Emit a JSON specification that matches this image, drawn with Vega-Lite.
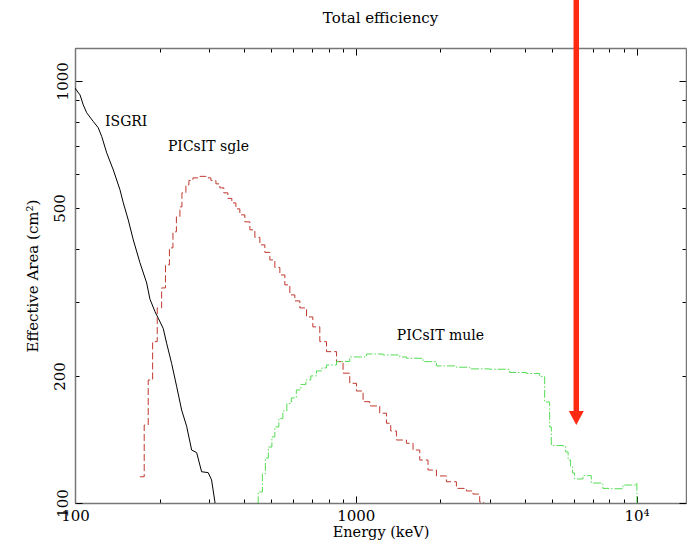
{
  "$schema": "https://vega.github.io/schema/vega-lite/v6.json",
  "width": 611,
  "height": 455,
  "autosize": {"type": "none"},
  "padding": {"left": 75, "top": 48, "right": 1, "bottom": 39},
  "background": "white",
  "config": {"view": {"stroke": null}},
  "title": {"text": "Total efficiency", "font": "DejaVu Serif", "fontSize": 15, "fontWeight": "normal", "color": "black", "anchor": "middle", "offset": 22, "dy": 51},
  "datasets": {
    "isgri": [
      {"E": 100, "A": 961}, {"E": 104.2, "A": 926}, {"E": 107.0, "A": 877}, {"E": 110.1, "A": 840},
      {"E": 116.2, "A": 801}, {"E": 121.0, "A": 774}, {"E": 124.5, "A": 738}, {"E": 129.7, "A": 675},
      {"E": 136.9, "A": 615}, {"E": 144.6, "A": 552}, {"E": 148.6, "A": 514}, {"E": 154.8, "A": 468},
      {"E": 161.3, "A": 420}, {"E": 170.3, "A": 371}, {"E": 180.0, "A": 332}, {"E": 184.9, "A": 304},
      {"E": 192.7, "A": 284}, {"E": 197.9, "A": 274}, {"E": 206.2, "A": 259}, {"E": 212.0, "A": 239},
      {"E": 220.9, "A": 214}, {"E": 230.1, "A": 189}, {"E": 239.8, "A": 166}, {"E": 249.8, "A": 152},
      {"E": 260.3, "A": 133.5}, {"E": 271.2, "A": 131.6}, {"E": 282.4, "A": 118.6}, {"E": 298.1, "A": 118.0},
      {"E": 306.5, "A": 113.4}, {"E": 314.9, "A": 100.7}, {"E": 316.5, "A": 97.5}
    ],
    "sgle": [
      {"E": 170.3, "A": 115.4}, {"E": 176.4, "A": 153.0}, {"E": 182.3, "A": 195.6}, {"E": 189.0, "A": 241.1},
      {"E": 196.3, "A": 289.8}, {"E": 203.5, "A": 323.2}, {"E": 210.0, "A": 366.4}, {"E": 216.9, "A": 402.1},
      {"E": 223.3, "A": 438.7}, {"E": 229.7, "A": 476.2}, {"E": 236.4, "A": 502.8}, {"E": 240.3, "A": 542.8},
      {"E": 248.3, "A": 567.0}, {"E": 254.5, "A": 580.9}, {"E": 263.0, "A": 589.0}, {"E": 278.5, "A": 593.9},
      {"E": 292.5, "A": 589.0}, {"E": 304.8, "A": 580.9}, {"E": 317.6, "A": 570.1}, {"E": 328.1, "A": 557.8},
      {"E": 339.0, "A": 542.8}, {"E": 350.3, "A": 526.7}, {"E": 361.9, "A": 513.9}, {"E": 374.1, "A": 497.4},
      {"E": 386.5, "A": 481.4}, {"E": 402.7, "A": 463.4}, {"E": 419.6, "A": 443.6}, {"E": 437.1, "A": 425.8},
      {"E": 455.4, "A": 408.7}, {"E": 474.5, "A": 392.3}, {"E": 494.3, "A": 376.5}, {"E": 514.9, "A": 361.4},
      {"E": 536.5, "A": 346.9}, {"E": 558.9, "A": 328.6}, {"E": 582.3, "A": 311.1}, {"E": 606.7, "A": 301.1},
      {"E": 632.1, "A": 289.8}, {"E": 667.8, "A": 275.9}, {"E": 703.1, "A": 261.3}, {"E": 744.6, "A": 241.1},
      {"E": 786.5, "A": 228.3}, {"E": 854.0, "A": 216.2}, {"E": 901.0, "A": 203.0}, {"E": 952.0, "A": 192.1},
      {"E": 1005.8, "A": 184.2}, {"E": 1061.7, "A": 173.8}, {"E": 1121.5, "A": 169.8}, {"E": 1217.0, "A": 163.2},
      {"E": 1286.0, "A": 154.5}, {"E": 1332.0, "A": 148.1}, {"E": 1395.7, "A": 141.0}, {"E": 1515.0, "A": 138.5},
      {"E": 1599.5, "A": 133.5}, {"E": 1689.9, "A": 126.4}, {"E": 1808.6, "A": 119.7}, {"E": 1937.5, "A": 115.9},
      {"E": 2102.8, "A": 112.3}, {"E": 2282.3, "A": 108.3}, {"E": 2477.4, "A": 106.8}, {"E": 2615.0, "A": 105.0},
      {"E": 2762.7, "A": 100.5}, {"E": 2855.0, "A": 97.3}
    ],
    "mule": [
      {"E": 444.6, "A": 100.0}, {"E": 449.2, "A": 106.2}, {"E": 464.9, "A": 117.1}, {"E": 476.4, "A": 127.8},
      {"E": 488.2, "A": 135.7}, {"E": 502.5, "A": 143.4}, {"E": 514.9, "A": 151.4}, {"E": 532.1, "A": 158.6},
      {"E": 549.9, "A": 165.2}, {"E": 568.2, "A": 172.1}, {"E": 589.5, "A": 177.4}, {"E": 614.2, "A": 185.3},
      {"E": 637.3, "A": 190.9}, {"E": 663.9, "A": 195.6}, {"E": 691.7, "A": 200.0}, {"E": 724.6, "A": 205.5},
      {"E": 756.8, "A": 208.9}, {"E": 786.5, "A": 212.3}, {"E": 854.0, "A": 216.4}, {"E": 952.0, "A": 221.8},
      {"E": 1091.6, "A": 225.4}, {"E": 1251.0, "A": 224.2}, {"E": 1434.5, "A": 221.8}, {"E": 1515.0, "A": 220.2},
      {"E": 1736.0, "A": 216.2}, {"E": 1937.5, "A": 211.2}, {"E": 2282.3, "A": 209.7}, {"E": 2545.0, "A": 207.8},
      {"E": 2999.0, "A": 207.4}, {"E": 3532.0, "A": 203.8}, {"E": 4051.0, "A": 202.7}, {"E": 4516.0, "A": 199.4},
      {"E": 4706.0, "A": 173.5}, {"E": 4903.0, "A": 151.4}, {"E": 4971.0, "A": 136.8}, {"E": 5468.0, "A": 136.5},
      {"E": 5590.0, "A": 132.1}, {"E": 5705.0, "A": 126.4}, {"E": 5823.0, "A": 121.7}, {"E": 5919.0, "A": 117.8},
      {"E": 6018.0, "A": 114.0}, {"E": 6442.0, "A": 116.1}, {"E": 6900.0, "A": 111.5}, {"E": 7487.0, "A": 110.9},
      {"E": 7587.0, "A": 108.3}, {"E": 8014.0, "A": 108.1}, {"E": 8939.0, "A": 110.3}, {"E": 9975.0, "A": 111.3},
      {"E": 10025.0, "A": 100.0}
    ],
    "labels": [
      {"E": 127.9, "A": 799, "label": "ISGRI"},
      {"E": 214.3, "A": 698, "label": "PICsIT sgle"},
      {"E": 1399.4, "A": 248.7, "label": "PICsIT mule"}
    ],
    "arrow": [{"E": 6100, "A": 1560, "A2": 165}],
    "arrowhead": [{"E": 6100, "A": 159}]
  },
  "resolve": {"axis": {"x": "independent", "y": "independent"}},
  "layer": [
    {
      "data": {"name": "isgri"},
      "mark": {"type": "line", "color": "black", "strokeWidth": 1, "clip": true},
      "encoding": {
        "x": {
          "field": "E", "type": "quantitative",
          "scale": {"type": "log", "domain": [100, 15000], "nice": false},
          "axis": {
            "orient": "bottom", "title": "Energy (keV)",
            "values": [100, 200, 300, 400, 500, 600, 700, 800, 900, 1000, 2000, 3000, 4000, 5000, 6000, 7000, 8000, 9000, 10000],
            "labelExpr": "datum.value == 100 ? '100' : datum.value == 1000 ? '1000' : datum.value == 10000 ? '10⁴' : ''",
            "labelOverlap": false, "labelFlush": false, "labelFont": "DejaVu Serif", "labelFontSize": 15, "labelColor": "black",
            "labelPadding": 12,
            "titleFont": "DejaVu Serif", "titleFontSize": 14.5, "titleFontWeight": "normal", "titleColor": "black", "titlePadding": -1,
            "tickSize": {"condition": {"test": "datum.value == 100 || datum.value == 1000 || datum.value == 10000", "value": -7}, "value": -4},
            "tickColor": "black", "domainColor": "#777", "domainWidth": 1.5, "grid": false
          }
        },
        "y": {
          "field": "A", "type": "quantitative",
          "scale": {"type": "log", "domain": [100, 1196], "nice": false},
          "axis": {
            "orient": "left", "title": "Effective Area (cm²)",
            "values": [100, 200, 300, 400, 500, 600, 700, 800, 900, 1000],
            "labelExpr": "datum.value == 100 ? '100' : datum.value == 200 ? '200' : datum.value == 500 ? '500' : datum.value == 1000 ? '1000' : ''",
            "labelOverlap": false, "labelAngle": -90, "labelFont": "DejaVu Serif", "labelFontSize": 15, "labelColor": "black",
            "labelPadding": 12,
            "titleFont": "DejaVu Serif", "titleFontSize": 15, "titleFontWeight": "normal", "titleColor": "black", "titlePadding": 12,
            "tickSize": {"condition": {"test": "datum.value == 100 || datum.value == 1000", "value": -7}, "value": -4},
            "tickColor": "black", "domainColor": "#777", "domainWidth": 1.5, "grid": false
          }
        }
      }
    },
    {
      "data": {"name": "sgle"},
      "mark": {"type": "line", "interpolate": "step-after", "color": "#c0392f", "strokeWidth": 1, "strokeDash": [7, 3], "clip": true},
      "encoding": {
        "x": {
          "field": "E", "type": "quantitative",
          "scale": {"type": "log", "domain": [100, 15000], "nice": false},
          "axis": {
            "orient": "top", "title": null, "labels": false,
            "values": [100, 200, 300, 400, 500, 600, 700, 800, 900, 1000, 2000, 3000, 4000, 5000, 6000, 7000, 8000, 9000, 10000],
            "tickSize": {"condition": {"test": "datum.value == 100 || datum.value == 1000 || datum.value == 10000", "value": -7}, "value": -4},
            "tickColor": "black", "domainColor": "#777", "domainWidth": 1.5, "grid": false
          }
        },
        "y": {
          "field": "A", "type": "quantitative",
          "scale": {"type": "log", "domain": [100, 1196], "nice": false},
          "axis": {
            "orient": "right", "title": null, "labels": false,
            "values": [100, 200, 300, 400, 500, 600, 700, 800, 900, 1000],
            "tickSize": {"condition": {"test": "datum.value == 100 || datum.value == 1000", "value": -7}, "value": -4},
            "tickColor": "black", "domainColor": "#777", "domainWidth": 1.5, "grid": false
          }
        }
      }
    },
    {
      "data": {"name": "mule"},
      "mark": {"type": "line", "interpolate": "step-after", "color": "#55dd55", "strokeWidth": 1, "strokeDash": [8, 2, 1.5, 2], "clip": true},
      "encoding": {
        "x": {"field": "E", "type": "quantitative", "axis": null},
        "y": {"field": "A", "type": "quantitative", "axis": null}
      }
    },
    {
      "data": {"name": "labels"},
      "mark": {"type": "text", "align": "left", "baseline": "middle", "font": "DejaVu Serif", "fontSize": 14, "color": "black"},
      "encoding": {
        "x": {"field": "E", "type": "quantitative", "axis": null},
        "y": {"field": "A", "type": "quantitative", "axis": null},
        "text": {"field": "label"}
      }
    },
    {
      "data": {"name": "arrow"},
      "mark": {"type": "rule", "color": "#ff2a12", "strokeWidth": 5.5},
      "encoding": {
        "x": {"field": "E", "type": "quantitative", "axis": null},
        "y": {"field": "A", "type": "quantitative", "axis": null},
        "y2": {"field": "A2"}
      }
    },
    {
      "data": {"name": "arrowhead"},
      "mark": {"type": "point", "shape": "M-1,-0.93L1,-0.93L0,0.93Z", "size": 225, "filled": true, "opacity": 1, "color": "#ff2a12"},
      "encoding": {
        "x": {"field": "E", "type": "quantitative", "axis": null},
        "y": {"field": "A", "type": "quantitative", "axis": null}
      }
    }
  ]
}
